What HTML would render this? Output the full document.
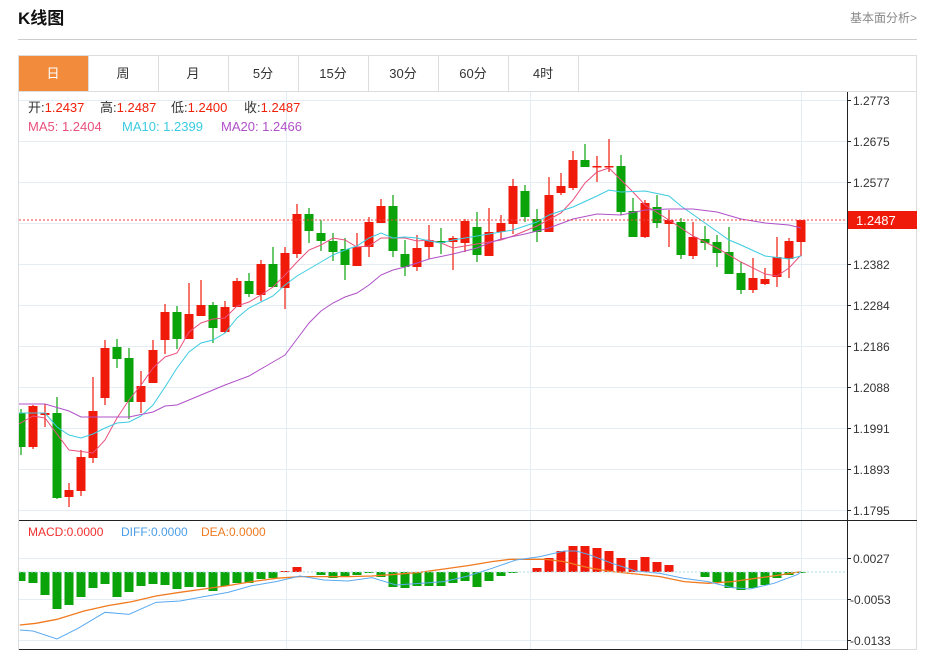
<!DOCTYPE html>
<html><head><meta charset="utf-8">
<style>
body{margin:0;background:#fff;width:930px;height:652px;overflow:hidden;font-family:"Liberation Sans","Noto Sans CJK SC",sans-serif;}
svg{position:absolute;left:0;top:0}
</style></head><body>
<svg id="s" width="930" height="652" viewBox="0 0 930 652" font-family="Liberation Sans, Noto Sans CJK SC, sans-serif">
<defs><clipPath id="cp"><rect x="19" y="92" width="828" height="558"/></clipPath></defs>
<text x="18" y="24" font-size="17" font-weight="bold" fill="#111">K线图</text>
<text x="850" y="22" font-size="12" fill="#888">基本面分析&gt;</text>
<line x1="18" y1="39.5" x2="917" y2="39.5" stroke="#ccc"/>
<rect x="18.5" y="55.5" width="898" height="594" fill="none" stroke="#ddd"/>
<rect x="19" y="56" width="69" height="35" fill="#f28c3c"/>
<g stroke="#ddd"><line x1="88.5" y1="56" x2="88.5" y2="91"/><line x1="158.5" y1="56" x2="158.5" y2="91"/><line x1="228.5" y1="56" x2="228.5" y2="91"/><line x1="298.5" y1="56" x2="298.5" y2="91"/><line x1="368.5" y1="56" x2="368.5" y2="91"/><line x1="438.5" y1="56" x2="438.5" y2="91"/><line x1="508.5" y1="56" x2="508.5" y2="91"/><line x1="578.5" y1="56" x2="578.5" y2="91"/><line x1="19" y1="91.5" x2="917" y2="91.5"/></g>
<g font-size="13" fill="#333" text-anchor="middle"><text x="53" y="78" fill="#fff">日</text><text x="123" y="78">周</text><text x="193" y="78">月</text><text x="263" y="78">5分</text><text x="333" y="78">15分</text><text x="403" y="78">30分</text><text x="473" y="78">60分</text><text x="543" y="78">4时</text></g>
<g stroke="#e3edf3" stroke-width="1">
<line x1="19" y1="100.5" x2="847" y2="100.5"/><line x1="19" y1="141.5" x2="847" y2="141.5"/><line x1="19" y1="182.5" x2="847" y2="182.5"/><line x1="19" y1="223.5" x2="847" y2="223.5"/><line x1="19" y1="264.5" x2="847" y2="264.5"/><line x1="19" y1="305.5" x2="847" y2="305.5"/><line x1="19" y1="346.5" x2="847" y2="346.5"/><line x1="19" y1="387.5" x2="847" y2="387.5"/><line x1="19" y1="428.5" x2="847" y2="428.5"/><line x1="19" y1="469.5" x2="847" y2="469.5"/><line x1="19" y1="510.5" x2="847" y2="510.5"/>
<line x1="19" y1="558.5" x2="847" y2="558.5"/><line x1="19" y1="599.5" x2="847" y2="599.5"/><line x1="19" y1="640.5" x2="847" y2="640.5"/>
<line x1="286.5" y1="92" x2="286.5" y2="650"/><line x1="530.5" y1="92" x2="530.5" y2="650"/><line x1="801.5" y1="92" x2="801.5" y2="650"/>
</g>
<g clip-path="url(#cp)">
<g id="cd"></g>
<polyline fill="none" stroke="#e8507e" stroke-width="1" points="19,424 33,416 45,418 69,450 93,453 105,440 117,418 129,400 141,385 153,368 165,357 177,353 189,332 201,323 213,319 225,318 237,306 249,302 261,295 273,287 285,275 297,262 309,250 321,245 333,238 345,240 357,247 369,246 381,238 393,238 405,238 417,241 429,240 441,243 453,248 477,244 501,240 513,236 537,226 561,213 573,200 585,183 597,172 609,168 621,180 633,192 645,205 669,220 693,236 717,248 741,262 765,274 777,276 789,268 801,255"/>
<polyline fill="none" stroke="#3ccbe0" stroke-width="1" points="19,413 45,413 57,427 69,435 81,438 93,434 105,428 117,423 129,422 141,416 153,405 165,387 177,368 189,352 201,343 213,340 225,333 237,318 249,308 261,302 273,296 285,285 297,276 309,269 321,262 333,255 345,250 357,246 369,238 381,233 393,238 405,237 417,238 429,241 441,243 453,240 465,238 489,234 513,230 537,222 549,215 573,207 597,196 609,190 621,192 645,191 669,196 681,206 705,223 729,240 741,245 765,256 789,259 801,256"/>
<polyline fill="none" stroke="#b050c8" stroke-width="1" points="19,404 45,404 69,411 81,417 105,417 129,417 153,412 165,406 177,405 201,395 225,385 249,376 273,362 285,355 297,339 309,323 321,311 333,303 345,297 357,293 369,285 381,275 393,270 405,267 429,259 453,254 477,248 489,243 501,239 525,234 549,228 573,219 597,214 621,215 645,210 669,209 693,209 717,212 741,219 765,223 789,225 801,228"/>
<g id="mb"></g>
<g transform="translate(0,515) scale(0.6,0.3333)">
<polyline vector-effect="non-scaling-stroke" fill="none" stroke="#f07a20" stroke-width="1.3" points="33,330 60,325 95,313 140,288 180,272 220,260 260,243 300,232 340,222 380,212 420,200 460,190 500,185 540,185 580,185 620,183 660,178 700,172 740,162 780,152 820,140 850,133 910,133 940,140 980,158 1020,170 1060,177 1100,185 1140,200 1180,205 1220,200 1260,190 1300,180 1335,170"/>
<polyline vector-effect="non-scaling-stroke" fill="none" stroke="#5aaaf0" stroke-width="1" points="33,345 55,348 95,372 130,340 175,292 215,298 260,262 300,258 340,245 380,232 420,212 460,200 500,183 540,195 580,198 620,188 660,210 700,205 740,200 780,183 820,160 860,135 900,125 940,108 960,108 980,118 1020,145 1060,168 1100,175 1140,190 1180,200 1220,218 1250,222 1290,205 1330,178 1335,170"/>
</g>
</g>
<line x1="19" y1="220" x2="847" y2="220" stroke="#f04040" stroke-dasharray="2,2"/>
<line x1="19" y1="572" x2="847" y2="572" stroke="#a8dce8" stroke-dasharray="2,2"/>
<line x1="847.5" y1="92" x2="847.5" y2="650" stroke="#222"/>
<line x1="19" y1="520.5" x2="917" y2="520.5" stroke="#222"/>
<line x1="19" y1="649.5" x2="847" y2="649.5" stroke="#222"/>
<g stroke="#222"><line x1="847" y1="100.5" x2="851" y2="100.5"/><line x1="847" y1="141.5" x2="851" y2="141.5"/><line x1="847" y1="182.5" x2="851" y2="182.5"/><line x1="847" y1="264.5" x2="851" y2="264.5"/><line x1="847" y1="305.5" x2="851" y2="305.5"/><line x1="847" y1="346.5" x2="851" y2="346.5"/><line x1="847" y1="387.5" x2="851" y2="387.5"/><line x1="847" y1="428.5" x2="851" y2="428.5"/><line x1="847" y1="469.5" x2="851" y2="469.5"/><line x1="847" y1="510.5" x2="851" y2="510.5"/><line x1="847" y1="558.5" x2="851" y2="558.5"/><line x1="847" y1="599.5" x2="851" y2="599.5"/><line x1="847" y1="640.5" x2="851" y2="640.5"/></g>
<g font-size="12" fill="#333"><text x="853" y="105">1.2773</text><text x="853" y="146">1.2675</text><text x="853" y="187">1.2577</text><text x="853" y="269">1.2382</text><text x="853" y="310">1.2284</text><text x="853" y="351">1.2186</text><text x="853" y="392">1.2088</text><text x="853" y="433">1.1991</text><text x="853" y="474">1.1893</text><text x="853" y="515">1.1795</text><text x="853" y="563">0.0027</text><text x="850" y="604">-0.0053</text><text x="850" y="645">-0.0133</text></g>
<rect x="848" y="211" width="69" height="18" fill="#f01a0a"/>
<text x="856" y="225" font-size="13" fill="#fff">1.2487</text>
<g font-size="13" fill="#333">
<text x="28" y="112">开:<tspan fill="#f0200a">1.2437</tspan></text>
<text x="100" y="112">高:<tspan fill="#f0200a">1.2487</tspan></text>
<text x="171" y="112">低:<tspan fill="#f0200a">1.2400</tspan></text>
<text x="244" y="112">收:<tspan fill="#f0200a">1.2487</tspan></text>
<text x="28" y="131" fill="#e8507e">MA5: 1.2404</text>
<text x="122" y="131" fill="#3ccbe0">MA10: 1.2399</text>
<text x="221" y="131" fill="#b050c8">MA20: 1.2466</text></g>
<g font-size="12"><text x="28" y="536" fill="#f03030">MACD:0.0000</text><text x="121" y="536" fill="#4a9de8">DIFF:0.0000</text><text x="201" y="536" fill="#f07a20">DEA:0.0000</text></g>
</svg>
<script>
var C=[[413,447,409,455,0],[406,447,405,449,1],[413,415,404,427,1],[413,498,397,499,0],[490,497,483,507,1],[457,491,450,496,1],[411,458,377,463,1],[348,398,340,405,1],[347,359,339,368,0],[358,402,348,419,0],[386,402,371,413,1],[350,383,340,383,1],[312,340,304,354,1],[312,339,306,349,0],[314,339,283,339,1],[305,316,280,316,1],[305,328,302,343,0],[307,332,301,333,1],[281,307,278,307,1],[281,294,273,297,0],[264,295,260,301,1],[264,287,247,287,0],[253,288,247,309,1],[214,254,204,258,1],[214,231,208,243,0],[233,241,220,251,0],[241,252,233,261,0],[249,265,238,280,0],[247,266,233,257,1],[222,247,217,257,1],[206,223,199,223,1],[206,251,195,257,0],[254,267,240,276,0],[248,267,235,271,1],[240,247,225,259,1],[241,243,228,254,0],[238,242,236,270,1],[221,243,219,252,1],[227,255,212,262,0],[232,256,208,256,1],[223,232,215,240,1],[186,224,179,234,1],[191,217,185,222,0],[219,232,209,242,0],[195,232,177,232,1],[186,193,173,195,1],[160,188,151,190,1],[160,167,144,167,0],[166,167,156,182,1],[166,167,139,172,1],[166,212,155,215,0],[211,237,198,237,0],[203,237,200,238,1],[207,223,195,228,0],[220,224,210,247,1],[222,255,218,259,0],[237,256,222,259,1],[239,243,226,250,0],[242,253,235,267,0],[252,274,227,274,0],[273,290,262,294,0],[278,290,258,293,1],[279,284,268,285,1],[257,277,237,287,1],[241,259,238,278,1],[220,242,220,256,1]];
var M=[581,583,595,609,605,597,588,584,597,592,586,584,585,589,587,587,591,586,583,583,579,578,571,567,572,575,578,577,575,573,577,587,588,586,586,586,583,581,587,581,576,573,572,568,558,551,546,546,548,551,558,560,557,562,565,572,572,577,582,588,590,588,585,578,575,573];
var ns="http://www.w3.org/2000/svg",cd=document.getElementById("cd"),mb=document.getElementById("mb");
function el(p,t,a){var e=document.createElementNS(ns,t);for(var k in a)e.setAttribute(k,a[k]);p.appendChild(e);}
C.forEach(function(c,i){var x=21+12*i,col=c[4]?"#f01a0a":"#0aa30a";
el(cd,"line",{x1:x,x2:x,y1:c[2],y2:c[3],stroke:col,"stroke-width":1.2});
el(cd,"rect",{x:x-4.5,y:c[0],width:9,height:Math.max(1.5,c[1]-c[0]),fill:col});});
M.forEach(function(v,i){var x=21+12*i,z=572;if(Math.abs(v-z)<1)return;var col=v<z?"#f01a0a":"#0aa30a";
el(mb,"rect",{x:x-4.5,y:Math.min(v,z),width:9,height:Math.abs(v-z),fill:col});});
</script>
</body></html>
